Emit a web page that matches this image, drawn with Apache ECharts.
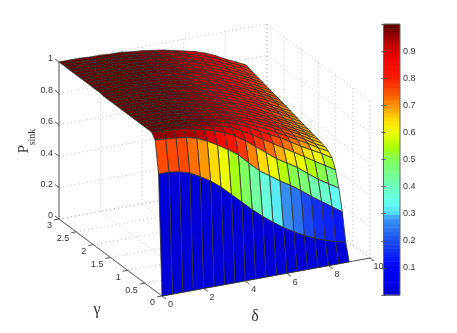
<!DOCTYPE html>
<html>
<head>
<meta charset="utf-8">
<style>
html, body { margin: 0; padding: 0; background: #fff; }
#chart { width: 457px; height: 333px; }
</style>
<script src="https://cdn.jsdelivr.net/npm/echarts@6/dist/echarts.min.js"></script>
</head>
<body>
<div id="chart"></div>
<script>
// surface grid, one row of psink per gamma value
const deltas = [0, 0.5, 1, 1.5, 2, 2.5, 3, 3.5, 4, 4.5, 5, 5.5, 6, 6.5, 7, 7.5, 8, 8.5, 9];
const gammas = [0, 0.1, 0.2, 0.3, 0.4, 0.5, 0.6, 0.7, 0.8, 0.9, 1, 1.1, 1.2, 1.3, 1.4, 1.5,
    1.6, 1.7, 1.8, 1.9, 2, 2.1, 2.2, 2.3, 2.4, 2.5, 2.6, 2.7, 2.8, 2.9, 3];
const psink = [
    [0, 0, 0, 0, 0, 0, 0, 0, 0, 0, 0, 0, 0, 0, 0, 0, 0, 0, 0],
    [.76, .76, .75, .73, .695, .655, .605, .545, .485, .425, .37, .32, .275, .235, .2, .17, .145, .125, .108],
    [.96, .955, .95, .94, .923, .893, .856, .815, .77, .705, .645, .6, .555, .515, .47, .42, .375, .33, .285],
    [.995, .99, .985, .98, .965, .95, .93, .905, .875, .83, .78, .73, .68, .64, .6, .55, .5, .46, .42],
    [.995, .99, .99, .985, .975, .96, .945, .93, .91, .875, .84, .8, .76, .72, .68, .64, .6, .56, .52],
    [.995, .995, .99, .985, .98, .97, .955, .94, .925, .9, .87, .835, .8, .77, .73, .69, .655, .62, .58],
    [.995, .995, .99, .99, .98, .97, .96, .945, .93, .91, .88, .85, .82, .785, .75, .715, .68, .64, .605],
    [.995, .995, .99, .99, .985, .975, .96, .95, .935, .915, .885, .86, .83, .8, .76, .725, .69, .65, .617],
    [.995, .995, .995, .99, .985, .975, .965, .95, .94, .92, .89, .865, .835, .805, .77, .735, .7, .66, .625],
    [.995, .995, .995, .99, .985, .975, .965, .955, .94, .92, .895, .87, .84, .81, .775, .74, .705, .67, .632],
    [.995, .995, .995, .99, .985, .98, .97, .955, .945, .925, .9, .875, .845, .815, .78, .745, .71, .675, .637],
    [.995, .995, .995, .99, .985, .98, .97, .96, .945, .93, .905, .88, .85, .82, .785, .75, .715, .68, .643],
    [.995, .995, .995, .99, .99, .98, .97, .96, .95, .93, .91, .885, .855, .825, .79, .755, .72, .685, .65],
    [.995, .995, .995, .99, .99, .98, .975, .96, .95, .935, .91, .885, .86, .83, .795, .76, .725, .69, .656],
    [.995, .995, .995, .99, .99, .985, .975, .965, .955, .935, .915, .89, .865, .835, .805, .77, .735, .7, .662],
    [.995, .995, .995, .995, .99, .985, .975, .965, .955, .94, .92, .895, .87, .84, .81, .775, .74, .705, .669],
    [.995, .995, .995, .995, .99, .985, .98, .97, .96, .94, .92, .9, .875, .845, .815, .78, .745, .71, .675],
    [.995, .995, .995, .995, .99, .985, .98, .97, .96, .945, .925, .905, .88, .85, .82, .785, .75, .715, .681],
    [1, .995, .995, .995, .99, .985, .98, .97, .96, .945, .93, .91, .885, .855, .825, .79, .76, .725, .688],
    [1, .995, .995, .995, .99, .985, .98, .975, .965, .95, .93, .91, .885, .86, .83, .795, .765, .73, .694],
    [1, .995, .995, .995, .99, .985, .98, .975, .965, .95, .935, .915, .89, .86, .835, .8, .77, .735, .7],
    [1, 1, .995, .995, .995, .985, .98, .975, .965, .955, .935, .92, .895, .865, .84, .805, .775, .74, .706],
    [1, 1, .995, .995, .995, .985, .985, .975, .97, .955, .94, .92, .9, .87, .845, .81, .78, .745, .712],
    [1, 1, .995, .995, .995, .99, .985, .98, .97, .955, .94, .925, .9, .875, .85, .82, .785, .75, .718],
    [1, 1, .995, .995, .995, .99, .985, .98, .97, .96, .945, .925, .905, .88, .855, .825, .795, .76, .724],
    [1, 1, .995, .995, .99, .99, .985, .98, .97, .96, .945, .93, .91, .885, .86, .83, .8, .765, .73],
    [1, 1, 1, .995, .995, .99, .985, .98, .975, .96, .95, .935, .915, .89, .865, .835, .805, .77, .736],
    [1, 1, 1, .995, .995, .99, .99, .98, .975, .965, .95, .935, .915, .895, .87, .84, .81, .775, .742],
    [1, 1, 1, .995, .995, .99, .99, .98, .975, .965, .95, .94, .92, .9, .875, .845, .815, .785, .748],
    [1, 1, 1, .995, .995, .99, .99, .98, .975, .965, .955, .94, .92, .905, .88, .855, .82, .79, .756],
    [1, 1, 1, .995, .995, .99, .99, .98, .975, .965, .955, .94, .925, .91, .888, .86, .825, .795, .763]
];

const deltaTicks = [0, 2, 4, 6, 8, 10];
const gammaTicks = [0, 0.5, 1, 1.5, 2, 2.5, 3];
const zTicks = [0, 0.2, 0.4, 0.6, 0.8, 1];

// colormap [value, r, g, b]
const colorStops = [
    [0, 0, 0, 215], [.1, 0, 0, 255], [.2, 30, 80, 240], [.28, 60, 150, 240], [.3, 80, 220, 245],
    [.34, 100, 255, 240], [.4, 110, 255, 190], [.5, 128, 255, 90], [.55, 175, 255, 0], [.6, 235, 255, 0],
    [.65, 255, 220, 0], [.7, 255, 150, 0], [.75, 255, 85, 0], [.8, 255, 30, 0], [.88, 240, 0, 0],
    [.95, 170, 0, 0], [1, 100, 0, 0]
];
const LEVELS = 64;

function levelColor(v) {
    const q = Math.min(LEVELS - 1, Math.floor(v * LEVELS)) / (LEVELS - 1);
    for (let k = 1; k < colorStops.length; k++) {
        const a = colorStops[k - 1], b = colorStops[k];
        if (q <= b[0]) {
            const t = (q - a[0]) / (b[0] - a[0]);
            return 'rgb(' + [1, 2, 3].map(c => Math.round(a[c] + (b[c] - a[c]) * t)).join(',') + ')';
        }
    }
    return 'rgb(100,0,0)';
}

// orthographic view of the (delta, gamma, z) box onto the hidden page plane
function project(d, g, z) {
    return [162 + 20.8 * d - 34.33 * g, 296 - 3.8 * d - 25.67 * g - 157 * z];
}

function segment(a, b) {
    return a.concat(b);
}

// dotted walls and floor
const wallLines = [];
deltaTicks.forEach(d => {
    wallLines.push(segment([d, 0, 0], [d, 3, 0]));
    wallLines.push(segment([d, 3, 0], [d, 3, 1]));
});
gammaTicks.forEach(g => {
    wallLines.push(segment([0, g, 0], [10, g, 0]));
    wallLines.push(segment([10, g, 0], [10, g, 1]));
});
zTicks.forEach(z => {
    wallLines.push(segment([0, 3, z], [10, 3, z]));
    wallLines.push(segment([10, 3, z], [10, 0, z]));
});

// solid axes and their ticks
const axisLines = [
    segment([0, 0, 0], [10, 0, 0]),
    segment([0, 0, 0], [0, 3, 0]),
    segment([0, 3, 0], [0, 3, 1])
];
deltaTicks.forEach(d => axisLines.push(segment([d, 0, 0], [d, -0.12, 0])));
gammaTicks.forEach(g => axisLines.push(segment([0, g, 0], [-0.24, g, 0])));
zTicks.forEach(z => axisLines.push(segment([0, 3, z], [0, 3.12, z])));

// back to front, so nearer cells paint over farther ones
const cells = [];
for (let j = gammas.length - 2; j >= 0; j--) {
    for (let i = deltas.length - 2; i >= 0; i--) {
        cells.push([i, j]);
    }
}

const tickLabels = [];
deltaTicks.forEach(d => tickLabels.push([d, 0, 0, 8.5, 9, 'center', String(d)]));
gammaTicks.forEach(g => tickLabels.push([0, g, 0, -7, 7, 'right', String(g)]));
zTicks.forEach(z => tickLabels.push([0, 3, z, -6, -3, 'right', String(z)]));

const barCells = [];
for (let k = 0; k < LEVELS; k++) {
    barCells.push([k / LEVELS, (k + 1) / LEVELS]);
}

function renderSegment(dashed, color, width) {
    return function (params, api) {
        const p1 = api.coord(project(api.value(0), api.value(1), api.value(2)));
        const p2 = api.coord(project(api.value(3), api.value(4), api.value(5)));
        return {
            type: 'line',
            shape: { x1: p1[0], y1: p1[1], x2: p2[0], y2: p2[1] },
            style: { stroke: color, lineWidth: width, lineDash: dashed ? [1, 3] : null, fill: null }
        };
    };
}

function renderCell(params, api) {
    const i = api.value(0), j = api.value(1);
    const corners = [[i, j], [i + 1, j], [i + 1, j + 1], [i, j + 1]];
    const points = corners.map(c => api.coord(project(deltas[c[0]], gammas[c[1]], psink[c[1]][c[0]])));
    return {
        type: 'polygon',
        shape: { points: points },
        style: { fill: levelColor(psink[j][i]), stroke: 'rgba(50,50,50,0.9)', lineWidth: 0.9 }
    };
}

function renderTickLabel(params, api) {
    const item = tickLabels[params.dataIndex];
    const p = api.coord(project(item[0], item[1], item[2]));
    return {
        type: 'text',
        style: {
            x: p[0] + item[3], y: p[1] + item[4], text: item[6], align: item[5], verticalAlign: 'middle',
            fill: '#333', font: '9px "Liberation Sans"'
        }
    };
}

function renderBarCell(params, api) {
    const p1 = api.coord([0, api.value(0)]);
    const p2 = api.coord([1, api.value(1)]);
    return {
        type: 'rect',
        shape: { x: p1[0], y: p2[1], width: p2[0] - p1[0], height: p1[1] - p2[1] + 0.5 },
        style: { fill: levelColor((api.value(0) + api.value(1)) / 2) }
    };
}

const chart = echarts.init(document.getElementById('chart'), null, { renderer: 'canvas' });
chart.setOption({
    animation: false,
    backgroundColor: '#fff',
    grid: [
        { left: 0, top: 0, width: 457, height: 333, show: false },
        { left: 383.5, top: 24, width: 16.5, height: 271, show: true, backgroundColor: 'transparent', borderColor: '#666', borderWidth: 1, z: 5 }
    ],
    xAxis: [
        { type: 'value', gridIndex: 0, min: 0, max: 457, show: false },
        { type: 'value', gridIndex: 1, min: 0, max: 1, show: false }
    ],
    yAxis: [
        { type: 'value', gridIndex: 0, min: 0, max: 333, inverse: true, show: false },
        {
            type: 'value', gridIndex: 1, min: 0, max: 1, interval: 0.1, position: 'right', z: 6,
            axisLine: { show: false },
            axisTick: { show: true, inside: true, length: 2, lineStyle: { color: '#555' } },
            splitLine: { show: false },
            axisLabel: {
                margin: 3, color: '#333', fontFamily: 'Liberation Sans', fontSize: 9,
                formatter: v => (v > 0.05 && v < 0.95 ? v.toFixed(1) : '')
            }
        },
        {
            type: 'value', gridIndex: 1, min: 0, max: 1, interval: 0.1, position: 'left', z: 6,
            axisLine: { show: false },
            axisTick: { show: true, inside: true, length: 2, lineStyle: { color: '#555' } },
            splitLine: { show: false },
            axisLabel: { show: false }
        }
    ],
    series: [
        { type: 'custom', name: 'walls', xAxisIndex: 0, yAxisIndex: 0, silent: true, clip: false, data: wallLines, renderItem: renderSegment(true, '#aaa', 0.8), z: 1 },
        { type: 'custom', name: 'axes', xAxisIndex: 0, yAxisIndex: 0, silent: true, clip: false, data: axisLines, renderItem: renderSegment(false, '#555', 1), z: 2 },
        { type: 'custom', name: 'Psink', xAxisIndex: 0, yAxisIndex: 0, silent: true, clip: false, progressive: 0, data: cells, renderItem: renderCell, z: 3 },
        { type: 'custom', name: 'tick labels', xAxisIndex: 0, yAxisIndex: 0, silent: true, clip: false, data: tickLabels.map((t, k) => [k]), renderItem: renderTickLabel, z: 4 },
        { type: 'custom', name: 'colorbar', xAxisIndex: 1, yAxisIndex: 1, silent: true, progressive: 0, data: barCells, renderItem: renderBarCell, z: 4 }
    ],
    graphic: [
        { type: 'text', x: 97, y: 310, style: { text: 'γ', font: '16px "Liberation Serif"', fill: '#333', align: 'center', verticalAlign: 'middle' } },
        { type: 'text', x: 255, y: 317, style: { text: 'δ', font: '16px "Liberation Serif"', fill: '#333', align: 'center', verticalAlign: 'middle' } },
        { type: 'text', x: 24, y: 149, rotation: Math.PI / 2, style: { text: 'P', font: '15px "Liberation Serif"', fill: '#333', align: 'center', verticalAlign: 'middle' } },
        { type: 'text', x: 32, y: 137, rotation: Math.PI / 2, style: { text: 'sink', font: '10px "Liberation Serif"', fill: '#333', align: 'center', verticalAlign: 'middle' } }
    ]
});
</script>
</body>
</html>
